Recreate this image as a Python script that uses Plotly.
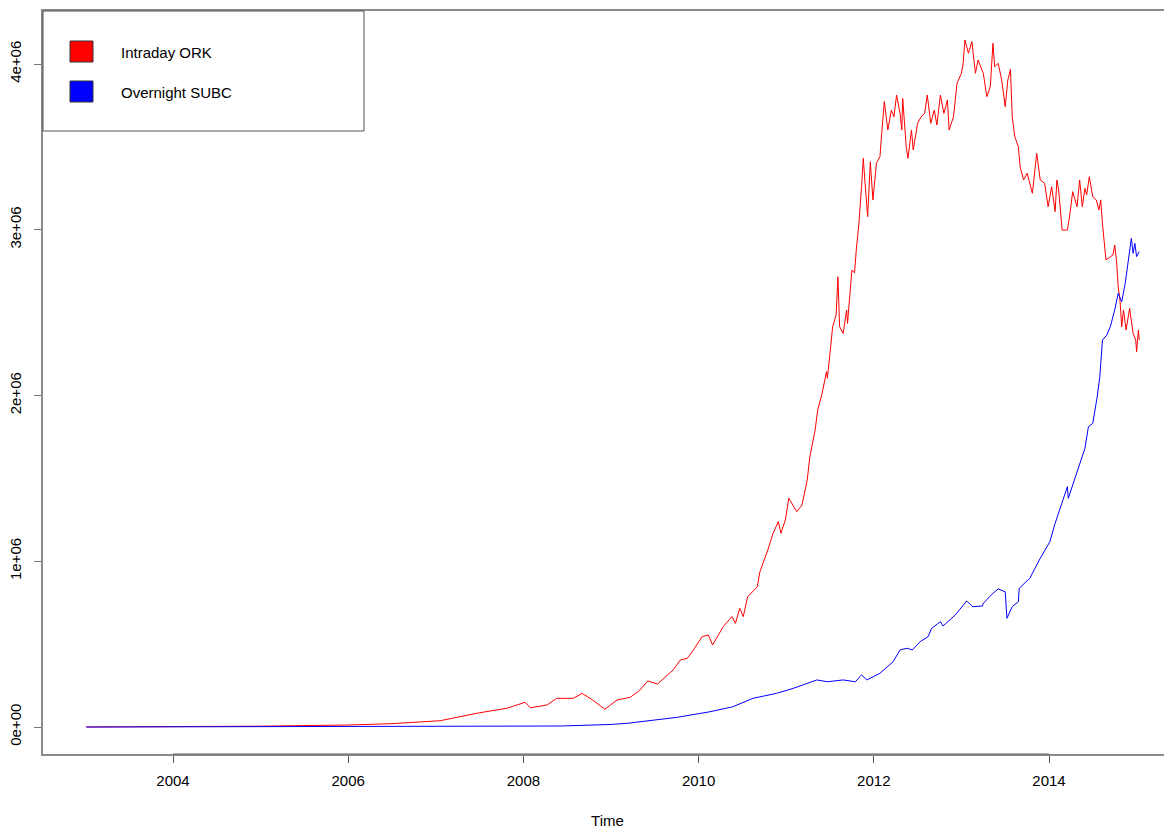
import plotly.graph_objects as go

# ---------------- data ----------------
intraday_t = [2003.01, 2004.0, 2005.0, 2006.0, 2006.5, 2007.05, 2007.5, 2007.81, 2008.02, 2008.08,
              2008.27, 2008.38, 2008.57, 2008.67, 2008.79, 2008.93, 2009.07, 2009.22, 2009.33, 2009.42,
              2009.53, 2009.71, 2009.79, 2009.87, 2009.94, 2010.04, 2010.11, 2010.16, 2010.28, 2010.38,
              2010.42, 2010.47, 2010.51, 2010.56, 2010.67, 2010.70, 2010.79, 2010.85, 2010.91, 2010.94,
              2010.99, 2011.03, 2011.12, 2011.18, 2011.24, 2011.27, 2011.33, 2011.36, 2011.41, 2011.46,
              2011.47, 2011.50, 2011.53, 2011.57, 2011.59, 2011.61, 2011.65, 2011.69, 2011.70, 2011.75,
              2011.78, 2011.80, 2011.83, 2011.86, 2011.88, 2011.90, 2011.93, 2011.96, 2011.99, 2012.03,
              2012.07, 2012.09, 2012.12, 2012.16, 2012.20, 2012.23, 2012.26, 2012.30, 2012.32, 2012.33,
              2012.37, 2012.39, 2012.43, 2012.45, 2012.50, 2012.54, 2012.58, 2012.61, 2012.65, 2012.69,
              2012.72, 2012.76, 2012.80, 2012.84, 2012.86, 2012.91, 2012.95, 2013.00, 2013.02, 2013.04,
              2013.08, 2013.12, 2013.16, 2013.19, 2013.25, 2013.29, 2013.33, 2013.36, 2013.38, 2013.42,
              2013.46, 2013.50, 2013.53, 2013.56, 2013.58, 2013.61, 2013.65, 2013.67, 2013.71, 2013.75,
              2013.81, 2013.86, 2013.90, 2013.95, 2013.99, 2014.03, 2014.07, 2014.09, 2014.11, 2014.15,
              2014.21, 2014.24, 2014.27, 2014.32, 2014.35, 2014.38, 2014.41, 2014.43, 2014.46, 2014.50,
              2014.54, 2014.57, 2014.59, 2014.61, 2014.65, 2014.70, 2014.73, 2014.75, 2014.77, 2014.79,
              2014.81, 2014.83, 2014.85, 2014.88, 2014.90, 2014.92, 2014.96, 2014.99, 2015.00, 2015.02,
              2015.03]
intraday_v = [0.000, 0.002, 0.005, 0.012, 0.020, 0.038, 0.086, 0.113, 0.149, 0.116,
              0.133, 0.173, 0.173, 0.203, 0.163, 0.107, 0.163, 0.179, 0.223, 0.278,
              0.259, 0.344, 0.404, 0.414, 0.464, 0.545, 0.555, 0.495, 0.605, 0.666,
              0.625, 0.716, 0.666, 0.786, 0.846, 0.937, 1.068, 1.169, 1.239, 1.169,
              1.249, 1.380, 1.299, 1.339, 1.490, 1.631, 1.792, 1.913, 2.013, 2.144,
              2.104, 2.255, 2.415, 2.486, 2.717, 2.415, 2.375, 2.516, 2.435, 2.757,
              2.740, 2.878, 3.039, 3.260, 3.431, 3.281, 3.079, 3.410, 3.180, 3.402,
              3.441, 3.581, 3.773, 3.602, 3.722, 3.682, 3.813, 3.702, 3.602, 3.792,
              3.501, 3.431, 3.602, 3.481, 3.642, 3.682, 3.702, 3.813, 3.642, 3.722,
              3.632, 3.813, 3.702, 3.783, 3.602, 3.682, 3.884, 3.944, 4.004, 4.145,
              4.065, 4.135, 3.944, 4.024, 3.944, 3.803, 3.863, 4.125, 3.984, 4.004,
              3.903, 3.742, 3.903, 3.968, 3.682, 3.561, 3.501, 3.380, 3.300, 3.341,
              3.220, 3.461, 3.300, 3.280, 3.139, 3.260, 3.109, 3.300, 3.240, 2.998,
              2.998, 3.099, 3.230, 3.139, 3.300, 3.139, 3.250, 3.210, 3.320, 3.199,
              3.180, 3.119, 3.180, 3.039, 2.818, 2.837, 2.848, 2.908, 2.818, 2.656,
              2.576, 2.415, 2.516, 2.395, 2.475, 2.526, 2.375, 2.335, 2.264, 2.395,
              2.335]

overnight_t = [2003.01, 2004.0, 2005.0, 2006.0, 2007.0, 2008.0, 2008.42, 2008.99, 2009.18, 2009.75,
               2010.13, 2010.39, 2010.62, 2010.89, 2011.08, 2011.35, 2011.47, 2011.65, 2011.79, 2011.84,
               2011.86, 2011.92, 2012.07, 2012.22, 2012.30, 2012.38, 2012.44, 2012.53, 2012.62, 2012.66,
               2012.76, 2012.79, 2012.93, 2013.06, 2013.13, 2013.24, 2013.25, 2013.36, 2013.42, 2013.50,
               2013.52, 2013.58, 2013.65, 2013.66, 2013.78, 2013.90, 2014.01, 2014.07, 2014.13, 2014.21,
               2014.22, 2014.32, 2014.41, 2014.45, 2014.50, 2014.55, 2014.58, 2014.61, 2014.66, 2014.70,
               2014.75, 2014.79, 2014.83, 2014.87, 2014.90, 2014.94, 2014.96, 2014.98, 2015.00, 2015.03]
overnight_v = [0.000, 0.001, 0.002, 0.004, 0.005, 0.006, 0.006, 0.015, 0.022, 0.058,
               0.092, 0.122, 0.173, 0.203, 0.233, 0.284, 0.273, 0.284, 0.273, 0.303,
               0.314, 0.284, 0.324, 0.394, 0.465, 0.475, 0.465, 0.515, 0.545, 0.595,
               0.635, 0.609, 0.676, 0.760, 0.726, 0.730, 0.746, 0.807, 0.833, 0.816,
               0.656, 0.726, 0.756, 0.837, 0.897, 1.018, 1.118, 1.229, 1.319, 1.450,
               1.380, 1.540, 1.681, 1.812, 1.832, 1.993, 2.113, 2.335, 2.365, 2.415,
               2.516, 2.617, 2.566, 2.677, 2.798, 2.948, 2.858, 2.918, 2.838, 2.868]

series_names = ["Intraday ORK", "Overnight SUBC"]
series_colors = ["#FF0000", "#0000FF"]

x_ticks = [2004, 2006, 2008, 2010, 2012, 2014]
y_ticks = [0, 1e6, 2e6, 3e6, 4e6]
y_tick_labels = ["0e+00", "1e+06", "2e+06", "3e+06", "4e+06"]

# ---------------- figure ----------------
# the page body adds an 8px margin, so the figure is sized/positioned to compensate
OFF = 8
PAGE_W, PAGE_H = 1172, 829
W, H = PAGE_W - OFF, PAGE_H - OFF
ML, MT = 43 - OFF, 11 - OFF
MB = PAGE_H - 754
MR = 0
PW, PH = W - ML - MR, H - MT - MB

def px(xp):  # page pixel x -> paper fraction
    return (xp - OFF - ML) / PW

def py(yp):  # page pixel y -> paper fraction
    return (H - MB - (yp - OFF)) / PH

FONT = "Liberation Sans, Arial, sans-serif"

fig = go.Figure()
for t, v, name, col in [(intraday_t, intraday_v, series_names[0], series_colors[0]),
                        (overnight_t, overnight_v, series_names[1], series_colors[1])]:
    fig.add_trace(go.Scatter(x=t, y=[val * 1e6 for val in v], mode="lines", name=name,
                             line=dict(color=col, width=1), showlegend=False))

fig.update_layout(
    width=W, height=H,
    margin=dict(l=ML, r=MR, t=MT, b=MB, pad=0),
    paper_bgcolor="white", plot_bgcolor="white",
    font=dict(family=FONT, size=15, color="#000000"),
    xaxis=dict(range=[2002.516, 2015.404], tickvals=x_ticks, ticktext=[str(v) for v in x_ticks],
               showgrid=False, zeroline=False, showline=True, linecolor="#8a8a8a", linewidth=1.5,
               mirror=True, ticks="outside", ticklen=7, tickcolor="#555555", tickwidth=1,
               ticklabelstandoff=5,
               title=dict(text="Time", standoff=30, font=dict(size=15))),
    yaxis=dict(range=[-0.1629e6, 4.3198e6], tickvals=y_ticks, ticktext=y_tick_labels,
               tickangle=-90, showgrid=False, zeroline=False, showline=True,
               linecolor="#8a8a8a", linewidth=1.5, ticks="outside", ticklen=7,
               tickcolor="#777777", tickwidth=1, ticklabelstandoff=7),
)

# slightly darker axis segment between first and last x tick (as drawn by R's axis())
fig.add_shape(type="line", xref="x", yref="paper", x0=x_ticks[0], x1=x_ticks[-1], y0=0, y1=0,
              line=dict(color="#666666", width=1.2))

# legend box
fig.add_shape(type="rect", xref="paper", yref="paper", x0=px(43), x1=px(364), y0=py(131), y1=py(11),
              line=dict(color="#555555", width=1), fillcolor="rgba(0,0,0,0)")
for i, (name, col) in enumerate(zip(series_names, series_colors)):
    top = 41 + 40 * i
    fig.add_shape(type="rect", xref="paper", yref="paper", x0=px(70), x1=px(93),
                  y0=py(top + 21), y1=py(top), line=dict(color="#333333", width=1), fillcolor=col)
    fig.add_annotation(xref="paper", yref="paper", x=px(119), y=py(top + 11), text=name,
                       showarrow=False, xanchor="left", yanchor="middle",
                       font=dict(family=FONT, size=15, color="#000000"))

fig.write_html("out.html")
